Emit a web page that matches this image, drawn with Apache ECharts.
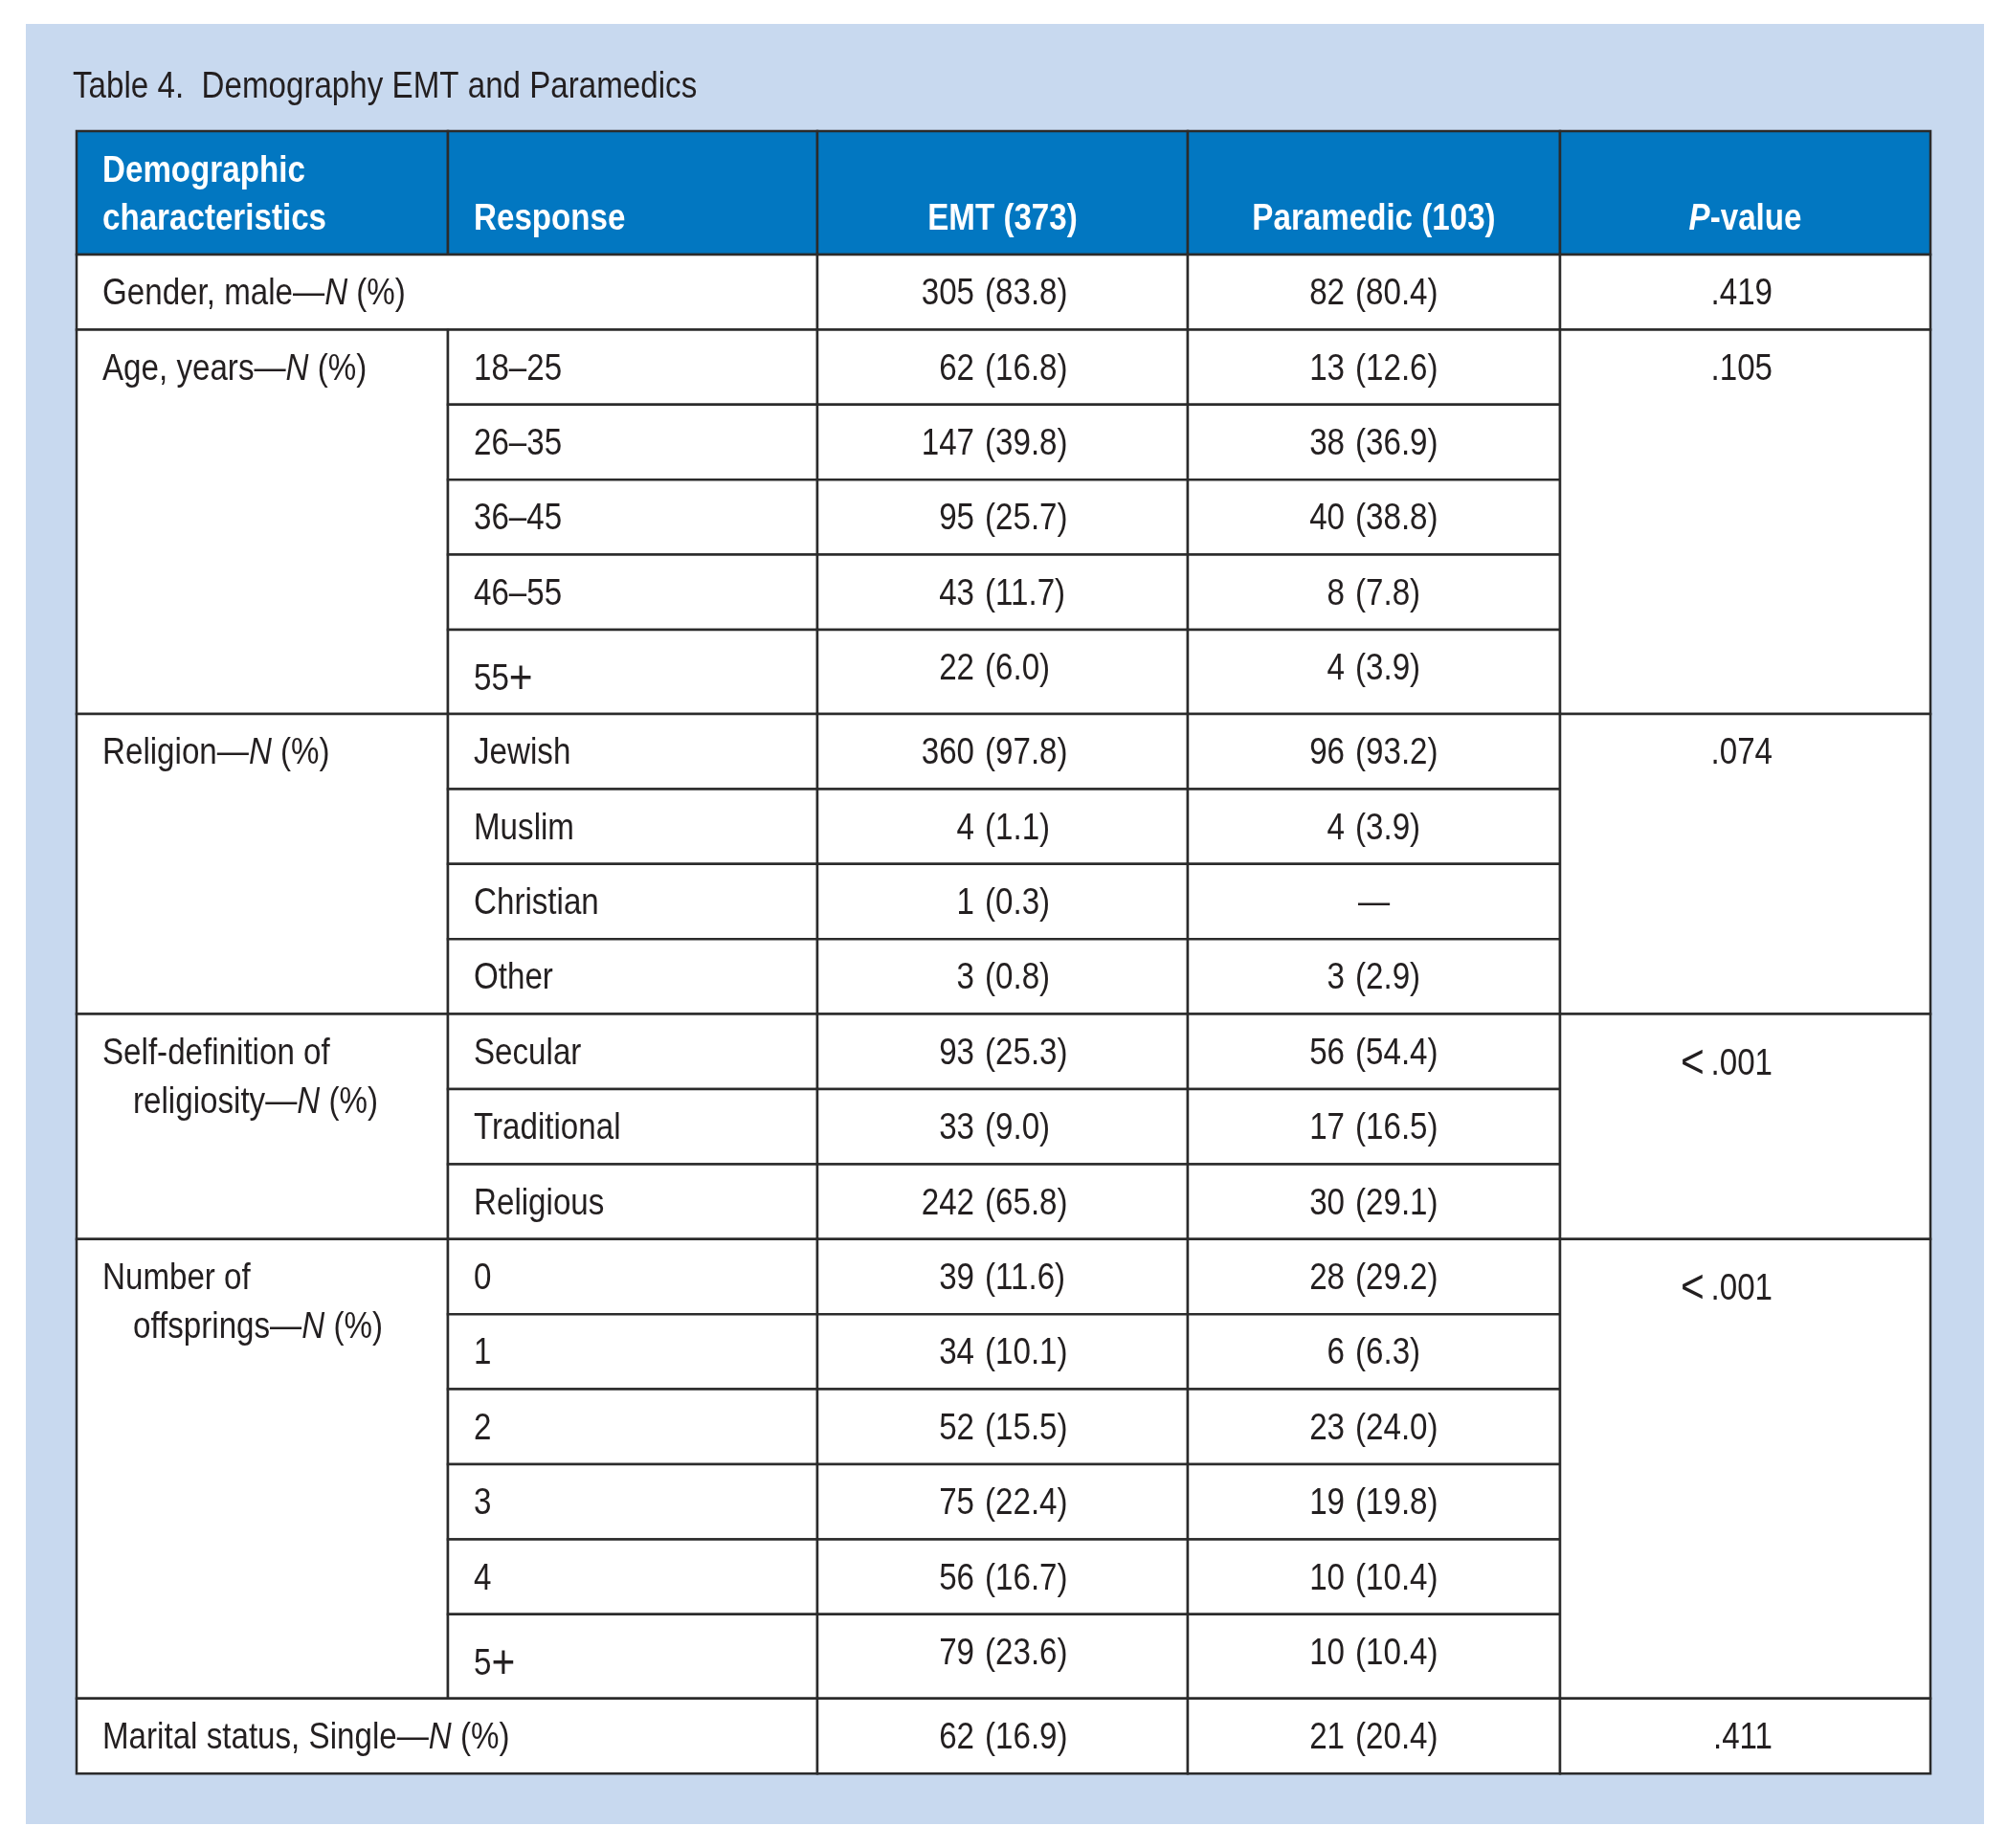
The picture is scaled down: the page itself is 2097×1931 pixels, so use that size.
<!DOCTYPE html>
<html>
<head>
<meta charset="utf-8">
<script src="https://cdn.jsdelivr.net/npm/echarts@6/dist/echarts.min.js"></script>
<style>
html, body { margin: 0; padding: 0; background: #fff; }
#main { width: 2097px; height: 1931px; }
</style>
</head>
<body>
<div id="main"></div>
<script>
// 表格内容
var titleText = 'Table 4.  Demography EMT and Paramedics';
var headers = ['Demographic\ncharacteristics', 'Response', 'EMT (373)', 'Paramedic (103)', 'P-value'];
var groupLabels = ['Gender, male', 'Age, years', 'Religion', 'Self-definition of\nreligiosity', 'Number of\noffsprings', 'Marital status, Single'];
var groupSizes = [1, 5, 4, 3, 6, 1];
var pValues = ['.419', '.105', '.074', '<.001', '<.001', '.411'];
var responses = ['', '18–25', '26–35', '36–45', '46–55', '55+', 'Jewish', 'Muslim', 'Christian', 'Other',
    'Secular', 'Traditional', 'Religious', '0', '1', '2', '3', '4', '5+', ''];
var emtN = [305, 62, 147, 95, 43, 22, 360, 4, 1, 3, 93, 33, 242, 39, 34, 52, 75, 56, 79, 62];
var emtPct = ['83.8', '16.8', '39.8', '25.7', '11.7', '6.0', '97.8', '1.1', '0.3', '0.8', '25.3', '9.0', '65.8',
    '11.6', '10.1', '15.5', '22.4', '16.7', '23.6', '16.9'];
var medN = [82, 13, 38, 40, 8, 4, 96, 4, null, 3, 56, 17, 30, 28, 6, 23, 19, 10, 10, 21];
var medPct = ['80.4', '12.6', '36.9', '38.8', '7.8', '3.9', '93.2', '3.9', null, '2.9', '54.4', '16.5', '29.1',
    '29.2', '6.3', '24.0', '19.8', '10.4', '10.4', '20.4'];

// 布局（像素单位，经坐标轴映射）
var colEdges = [0, 388, 774, 1161, 1550, 1937];
var headerH = 129, rowH = 78.4, tallRowH = 88;
var FONT = "'Liberation Sans', Arial, sans-serif";
var FS = 39, SX = 0.85;
var INK = '#231f20', BLUE = '#0277c1', LINE = '#2b2b2b';

function rich(color) {
    return {
        n: { fontFamily: FONT, fontSize: FS, fontWeight: 'normal', fontStyle: 'normal', fill: color },
        i: { fontFamily: FONT, fontSize: FS, fontWeight: 'normal', fontStyle: 'italic', fill: color },
        m: { fontFamily: FONT, fontSize: 50, fontWeight: 'normal', fontStyle: 'normal', fill: color },
        b: { fontFamily: FONT, fontSize: FS, fontWeight: 'bold', fontStyle: 'normal', fill: color },
        bi: { fontFamily: FONT, fontSize: FS, fontWeight: 'bold', fontStyle: 'italic', fill: color }
    };
}
var richBody = rich(INK), richHead = rich('#ffffff');

// 数学符号（+ 和 <）用较大字号的单独片段
function mathText(s) {
    return s.split(/([+<])/).filter(function (p) { return p !== ''; }).map(function (p) {
        return p === '+' ? '{m|+}' : (p === '<' ? '{m|<}{n|\u2009}' : '{n|' + p + '}');
    }).join('');
}
function hasMath(s) { return /[+<]/.test(s); }

// 行的上边界
var rowTops = [];
var yy = headerH;
responses.forEach(function (r) {
    rowTops.push(yy);
    yy += r.indexOf('+') >= 0 ? tallRowH : rowH;
});
var tableH = yy;

// 单元格
var cells = [];
function cell(c0, c1, y0, y1, fill, texts) {
    cells.push({ x0: colEdges[c0], x1: colEdges[c1], y0: y0, y1: y1, fill: fill, texts: texts });
}
function t(text, dx, dy, align, head) {
    return { text: text, dx: dx, dy: dy, align: align, head: head };
}

// 表头
var hdr = headers[0].split('\n');
cell(0, 1, 0, headerH, BLUE, [t('{b|' + hdr[0] + '}', 27, 42.5, 'left', 1), t('{b|' + hdr[1] + '}', 27, 92.5, 'left', 1)]);
cell(1, 2, 0, headerH, BLUE, [t('{b|' + headers[1] + '}', 27, 92.5, 'left', 1)]);
cell(2, 3, 0, headerH, BLUE, [t('{b|' + headers[2] + '}', 193.5, 92.5, 'center', 1)]);
cell(3, 4, 0, headerH, BLUE, [t('{b|' + headers[3] + '}', 194.5, 92.5, 'center', 1)]);
cell(4, 5, 0, headerH, BLUE, [t('{bi|P}{b|' + headers[4].slice(1) + '}', 193.5, 92.5, 'center', 1)]);

// 数据行
var BASE = 41.5, MATH = 11;
var r = 0;
groupLabels.forEach(function (g, gi) {
    var n = groupSizes[gi];
    var gTop = rowTops[r];
    var gBot = rowTops[r + n - 1] + (responses[r + n - 1].indexOf('+') >= 0 ? tallRowH : rowH);
    var lines = g.split('\n');
    var lab = lines.map(function (ln, li) {
        var s = '{n|' + ln + '}';
        if (li === lines.length - 1) s = '{n|' + ln + '—}{i|N}{n| (%)}';
        return t(s, 27 + (li > 0 ? 32 : 0), BASE + li * 51, 'left');
    });
    var single = responses[r] === '';
    cell(0, single ? 2 : 1, gTop, gBot, '#ffffff', lab);
    var pv = pValues[gi];
    for (var k = 0; k < n; k++) {
        var i = r + k;
        var top = rowTops[i];
        var bot = top + (hasMath(responses[i]) ? tallRowH : rowH);
        if (!single) {
            cell(1, 2, top, bot, '#ffffff', [t(mathText(responses[i]), 27, BASE + (hasMath(responses[i]) ? MATH : 0), 'left')]);
        }
        cell(2, 3, top, bot, '#ffffff', [t('{n|' + emtN[i] + '}', 164, BASE, 'right'), t('{n|(' + emtPct[i] + ')}', 175, BASE, 'left')]);
        if (medN[i] === null) {
            cell(3, 4, top, bot, '#ffffff', [t('{n|—}', 194.5, BASE, 'center')]);
        } else {
            cell(3, 4, top, bot, '#ffffff', [t('{n|' + medN[i] + '}', 164, BASE, 'right'), t('{n|(' + medPct[i] + ')}', 175, BASE, 'left')]);
        }
    }
    cell(4, 5, gTop, gBot, '#ffffff', [t(mathText(pv), 222, BASE + (hasMath(pv) ? MATH : 0), 'right')]);
    r += n;
});

var myChart = echarts.init(document.getElementById('main'));
var option = {
    animation: false,
    backgroundColor: '#ffffff',
    graphic: [
        { type: 'rect', z: 0, shape: { x: 27, y: 25, width: 2046, height: 1881 }, style: { fill: '#c8d9ef' } },
        {
            type: 'text', z: 1, x: 76, y: 91, scaleX: SX,
            style: { text: titleText, fontFamily: FONT, fontSize: FS, fill: INK, align: 'left', verticalAlign: 'middle' }
        }
    ],
    grid: { left: 80, top: 137, width: colEdges[colEdges.length - 1], height: tableH, containLabel: false },
    xAxis: { type: 'value', min: 0, max: colEdges[colEdges.length - 1], show: false },
    yAxis: { type: 'value', min: 0, max: tableH, inverse: true, show: false },
    series: [{
        type: 'custom',
        z: 5,
        encode: { x: [0, 2], y: [1, 3] },
        data: cells.map(function (c) { return [c.x0, c.y0, c.x1, c.y1]; }),
        renderItem: function (params, api) {
            var c = cells[params.dataIndex];
            var p0 = api.coord([c.x0, c.y0]);
            var p1 = api.coord([c.x1, c.y1]);
            var children = [{
                type: 'rect',
                shape: { x: p0[0], y: p0[1], width: p1[0] - p0[0], height: p1[1] - p0[1] },
                style: { fill: c.fill, stroke: LINE, lineWidth: 2.5 }
            }];
            c.texts.forEach(function (tx) {
                var p = api.coord([c.x0 + tx.dx, c.y0 + tx.dy]);
                children.push({
                    type: 'text', x: p[0], y: p[1], scaleX: SX,
                    style: {
                        text: tx.text, rich: tx.head ? richHead : richBody,
                        fontFamily: FONT, fontSize: FS,
                        align: tx.align, verticalAlign: 'middle'
                    }
                });
            });
            return { type: 'group', children: children };
        }
    }]
};
myChart.setOption(option);
</script>
</body>
</html>
